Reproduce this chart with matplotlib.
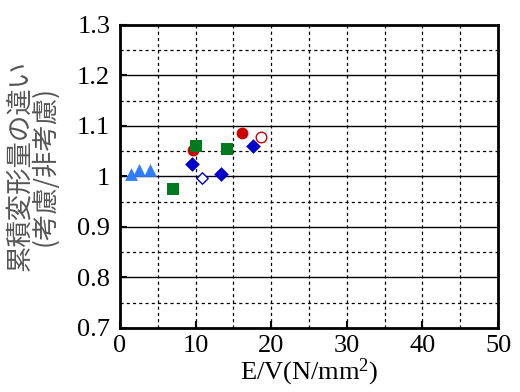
import matplotlib
matplotlib.use("Agg")
import matplotlib.pyplot as plt
import numpy as np

plt.rcParams["mathtext.fontset"] = "custom"
plt.rcParams["mathtext.rm"] = "Liberation Serif"
plt.rcParams["mathtext.it"] = "Liberation Serif:italic"

tri_x = [1.4, 2.5, 4.0]
tri_y = [1.005, 1.012, 1.013]
sq_x = [7.0, 10.0, 14.1]
sq_y = [0.975, 1.061, 1.055]
circ_x = [9.6, 16.2]
circ_y = [1.052, 1.086]
ocirc_x = [18.7]
ocirc_y = [1.078]
dia_x = [9.5, 13.4, 17.6]
dia_y = [1.025, 1.004, 1.061]
odia_x = [10.9]
odia_y = [0.997]

xticks = [0, 10, 20, 30, 40, 50]
yticks = [0.7, 0.8, 0.9, 1.0, 1.1, 1.2, 1.3]
yticklabels = ["0.7", "0.8", "0.9", "1", "1.1", "1.2", "1.3"]

serif = ["Liberation Serif", "DejaVu Serif"]

fig = plt.figure(figsize=(5.2, 3.92), dpi=100)
ax = fig.add_axes([0.2308, 0.1633, 0.7269, 0.7730])
ax.set_xlim(0, 50)
ax.set_ylim(0.7, 1.3)

# grid
for x in np.arange(5, 50, 5):
    ax.axvline(x, color="black", lw=0.9, ls=(0, (2.5, 2.5)), zorder=1)
for y in [0.75, 0.85, 0.95, 1.05, 1.15, 1.25]:
    ax.axhline(y, color="black", lw=0.9, ls=(0, (2.5, 2.5)), zorder=1)
for y in [0.8, 0.9, 1.0, 1.1, 1.2]:
    ax.axhline(y, color="black", lw=1.0, zorder=1)

ax.scatter(tri_x, tri_y, marker="^", s=85, color="#2f7dff", zorder=3, linewidths=0)
ax.scatter(circ_x, circ_y, marker="o", s=72, color="#cc0000", zorder=3, linewidths=0)
ax.scatter(ocirc_x, ocirc_y, marker="o", s=58, facecolor="white", edgecolor="#cc0000", linewidths=1.0, zorder=3)
ax.scatter(sq_x, sq_y, marker="s", s=82, color="#007a1e", zorder=4, linewidths=0)
ax.scatter(dia_x, dia_y, marker="D", s=56, color="#0000cc", zorder=4, linewidths=0)
ax.scatter(odia_x, odia_y, marker="D", s=34, facecolor="white", edgecolor="#0000cc", linewidths=1.0, zorder=4)

ax.set_xticks(xticks)
ax.set_yticks(yticks)
ax.set_yticklabels(yticklabels)
ax.tick_params(direction="in", length=5, width=1.5, labelsize=19)
ax.tick_params(axis="y", pad=7)
ax.tick_params(axis="x", pad=5)
for lab in ax.get_xticklabels() + ax.get_yticklabels():
    lab.set_fontfamily(serif)
for s in ax.spines.values():
    s.set_linewidth(2.0)

ax.set_xlabel("E/V(N/mm$^2$)", fontsize=19, family=serif, labelpad=0)
ax.set_ylabel("累積変形量の違い\n(考慮/非考慮)", fontsize=19, color="#555555",
              family=["Noto Sans CJK JP", "DejaVu Sans"], linespacing=0.9)
ax.yaxis.set_label_coords(-0.162, 0.535)

fig.savefig("out.png", dpi=100)
